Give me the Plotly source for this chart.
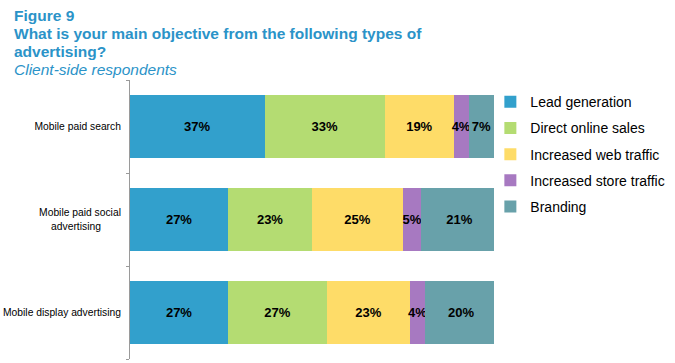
import plotly.graph_objects as go

categories = ["Mobile paid search", "Mobile paid social advertising", "Mobile display advertising"]
tick_labels = ["Mobile paid search",
               "Mobile paid social<br>advertising" + "\u00a0" * 7,
               "Mobile display advertising"]
series_names = ["Lead generation", "Direct online sales", "Increased web traffic",
                "Increased store traffic", "Branding"]
lead_generation = [37, 27, 27]
direct_online_sales = [33, 23, 27]
increased_web_traffic = [19, 25, 23]
increased_store_traffic = [4, 5, 4]
branding = [7, 21, 20]
colors = ["#32A0CC", "#B4DC72", "#FEDC68", "#A779C1", "#68A1AA"]

title_lines = ["<b>Figure 9</b>",
               "<b>What is your main objective from the following types of</b>",
               "<b>advertising?</b>",
               "<i>Client-side respondents</i>"]

series_values = [lead_generation, direct_online_sales, increased_web_traffic,
                 increased_store_traffic, branding]

W, H = 675, 363
ML, MR, MT, MB = 130, 181, 80, 4
PW, PH = W - ML - MR, H - MT - MB

fig = go.Figure()
for name, vals, col in zip(series_names, series_values, colors):
    fig.add_trace(go.Bar(
        y=categories, x=vals, name=name, orientation="h",
        marker=dict(color=col, line=dict(width=0)),
        texttemplate="%{x}%", textposition="inside", insidetextanchor="middle",
        textangle=0,
        textfont=dict(family="Liberation Sans", size=13, color="black", weight="bold"),
        legendgroup=name, hoverinfo="skip",
    ))

title_color = "#2B93C8"
line_centers = [15.5, 33, 51, 69.5]
for txt, yc in zip(title_lines, line_centers):
    fig.add_annotation(
        text=txt, xref="paper", yref="paper",
        x=(12 - ML) / PW, xanchor="left",
        y=1 + (MT - yc) / PH, yanchor="middle",
        showarrow=False,
        font=dict(family="Liberation Sans", size=15.5, color=title_color),
    )

fig.update_layout(
    width=W, height=H,
    barmode="stack", bargap=0.333,
    plot_bgcolor="white", paper_bgcolor="white",
    margin=dict(l=ML, r=MR, t=MT, b=MB, autoexpand=False),
    font=dict(family="Liberation Sans", color="black"),
    uniformtext=dict(minsize=13, mode="show"),
    legend=dict(
        x=0.99, xanchor="left", y=0.978, yanchor="top",
        font=dict(size=14, color="black"), tracegroupgap=5,
        itemwidth=30, traceorder="grouped", bgcolor="rgba(0,0,0,0)",
    ),
    xaxis=dict(range=[0, 100], visible=False, fixedrange=True),
    yaxis=dict(
        autorange="reversed", showline=True, linecolor="#9a9a9a", linewidth=1,
        ticks="outside", ticklen=3, tickcolor="#9a9a9a", tickson="boundaries",
        tickmode="array", tickvals=categories, ticktext=tick_labels,
        tickfont=dict(size=10.3, color="black"), showgrid=False, zeroline=False,
        automargin=False, ticklabelstandoff=6,
    ),
)

fig.write_html("out.html", config={"displayModeBar": False},
               post_script="document.body.style.margin='0px';")
